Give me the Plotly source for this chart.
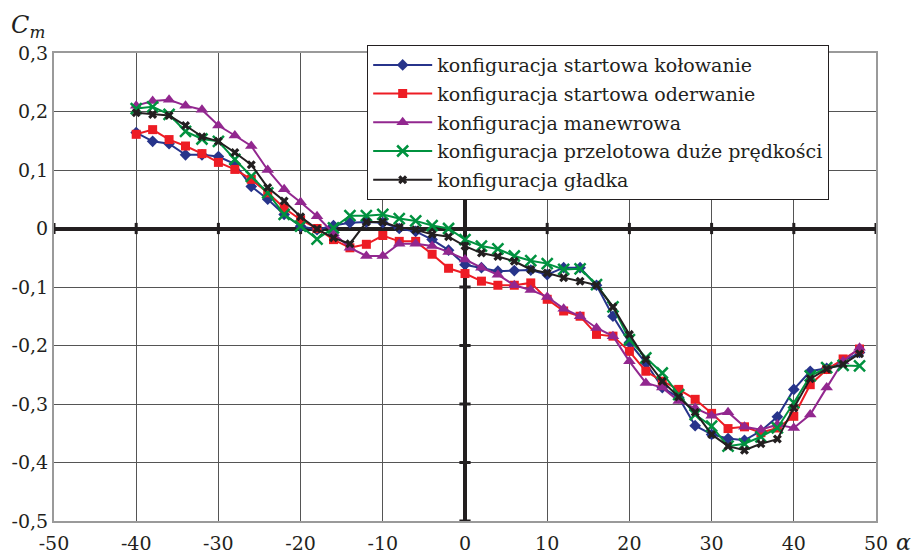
import plotly.graph_objects as go

alpha = list(range(-40, 49, 2))

kolowanie = [0.164, 0.149, 0.145, 0.126, 0.126, 0.123, 0.110, 0.072, 0.050, 0.024, 0.004,
             -0.002, 0.005, 0.010, 0.011, 0.010, 0.000, -0.005, -0.019, -0.037, -0.062,
             -0.067, -0.073, -0.072, -0.071, -0.079, -0.067, -0.067, -0.097, -0.150, -0.195,
             -0.230, -0.272, -0.289, -0.337, -0.352, -0.359, -0.362, -0.346, -0.322, -0.275,
             -0.244, -0.239, -0.227, -0.212]
oderwanie = [0.161, 0.169, 0.152, 0.141, 0.128, 0.113, 0.101, 0.084, 0.061, 0.035, 0.015,
             0.000, -0.019, -0.033, -0.027, -0.012, -0.022, -0.022, -0.044, -0.068, -0.077,
             -0.090, -0.097, -0.097, -0.093, -0.121, -0.141, -0.150, -0.181, -0.184, -0.210,
             -0.244, -0.261, -0.275, -0.292, -0.316, -0.342, -0.339, -0.349, -0.341, -0.321,
             -0.267, -0.241, -0.223, -0.206]
manewrowa = [0.210, 0.218, 0.220, 0.210, 0.203, 0.176, 0.159, 0.141, 0.100, 0.067, 0.045,
             0.021, -0.008, -0.033, -0.047, -0.047, -0.026, -0.026, -0.030, -0.040, -0.053,
             -0.067, -0.079, -0.097, -0.105, -0.117, -0.137, -0.150, -0.170, -0.184, -0.227,
             -0.264, -0.272, -0.295, -0.307, -0.320, -0.314, -0.339, -0.344, -0.335, -0.341,
             -0.318, -0.272, -0.227, -0.204]
przelotowa = [0.205, 0.208, 0.195, 0.166, 0.153, 0.149, 0.118, 0.089, 0.061, 0.024, 0.004,
              -0.018, 0.001, 0.022, 0.022, 0.024, 0.017, 0.013, 0.005, 0.000, -0.019,
              -0.030, -0.035, -0.047, -0.055, -0.060, -0.070, -0.069, -0.096, -0.134, -0.190,
              -0.221, -0.247, -0.284, -0.318, -0.338, -0.372, -0.368, -0.356, -0.341, -0.298,
              -0.252, -0.238, -0.234, -0.235]
gladka = [0.198, 0.195, 0.193, 0.176, 0.157, 0.149, 0.130, 0.109, 0.070, 0.047, 0.020,
          -0.001, -0.016, -0.026, 0.011, 0.011, 0.002, -0.002, -0.010, -0.014, -0.030,
          -0.042, -0.048, -0.056, -0.070, -0.076, -0.084, -0.090, -0.097, -0.134, -0.181,
          -0.224, -0.261, -0.288, -0.314, -0.352, -0.372, -0.379, -0.368, -0.360, -0.307,
          -0.257, -0.240, -0.232, -0.214]

names = ["konfiguracja startowa kołowanie", "konfiguracja startowa oderwanie",
         "konfiguracja manewrowa", "konfiguracja przelotowa duże prędkości",
         "konfiguracja gładka"]

x_ticks = list(range(-50, 51, 10))
x_labels = ["-50", "-40", "-30", "-20", "-10", "0", "10", "20", "30", "40", "50"]
y_ticks = [0.3, 0.2, 0.1, 0.0, -0.1, -0.2, -0.3, -0.4, -0.5]
y_labels = ["0,3", "0,2", "0,1", "0", "-0,1", "-0,2", "-0,3", "-0,4", "-0,5"]

FONT = "DejaVu Serif, Liberation Serif, serif"

series = [
    (kolowanie, "#27348b", dict(symbol="diamond", size=9)),
    (oderwanie, "#ed1c24", dict(symbol="square", size=9)),
    (manewrowa, "#92278f", dict(symbol="triangle-up", size=11)),
    (przelotowa, "#00923f", dict(symbol="x-thin-open", size=11, line=dict(width=2.5, color="#00923f"))),
    (gladka, "#231f20", dict(symbol="x", size=8)),
]

fig = go.Figure()

# decorative tick marks on the zero axes
fig.add_trace(go.Scatter(x=[0] * len(y_ticks), y=y_ticks, mode="markers",
                         marker=dict(symbol="line-ew", size=8, line=dict(width=3, color="#231f20")),
                         showlegend=False, hoverinfo="skip"))
fig.add_trace(go.Scatter(x=x_ticks, y=[0] * len(x_ticks), mode="markers",
                         marker=dict(symbol="line-ns", size=8, line=dict(width=3, color="#231f20")),
                         showlegend=False, hoverinfo="skip"))

for i, ((vals, color, mk), name) in enumerate(zip(series, names)):
    m = dict(color=color, **mk)
    fig.add_trace(go.Scatter(x=alpha, y=vals, mode="lines+markers", name=name,
                             legendgroup=f"g{i}",
                             line=dict(color=color, width=2), marker=m))

fig.update_layout(
    width=916, height=556,
    margin=dict(l=54, r=40, t=53, b=35),
    paper_bgcolor="white", plot_bgcolor="white",
    font=dict(family=FONT, size=19, color="#231f20"),
    legend=dict(x=0.381, y=1.017, xanchor="left", yanchor="top",
                bgcolor="white", bordercolor="#231f20", borderwidth=1,
                font=dict(family=FONT, size=19), tracegroupgap=1, itemwidth=59),
    xaxis=dict(range=[-50, 50], tickvals=x_ticks, ticktext=x_labels, automargin=False,
               ticks="outside", ticklen=4, tickcolor="rgba(0,0,0,0)", showgrid=True,
               gridcolor="#555555", gridwidth=1, zeroline=True, zerolinecolor="#231f20",
               zerolinewidth=4, showline=True, linecolor="#9a9a9a", linewidth=2, mirror=True,
               tickfont=dict(family=FONT, size=19)),
    yaxis=dict(range=[-0.5, 0.3], tickvals=y_ticks, ticktext=y_labels, ticks="",
               automargin=False,
               showgrid=True, gridcolor="#555555", gridwidth=1, zeroline=True,
               zerolinecolor="#231f20", zerolinewidth=4, showline=True, linecolor="#9a9a9a",
               linewidth=2, mirror=True, tickfont=dict(family=FONT, size=19)),
    annotations=[
        dict(text="<i>C<sub>m</sub></i>", xref="paper", yref="paper", x=-0.055, y=1.02,
             xanchor="left", yanchor="bottom", showarrow=False,
             font=dict(family=FONT, size=24)),
        dict(text="<i>α</i>", xref="paper", yref="paper", x=1.033, y=-0.045,
             xanchor="center", yanchor="middle", showarrow=False,
             font=dict(family=FONT, size=22)),
    ],
)

fig.write_html("out.html")
